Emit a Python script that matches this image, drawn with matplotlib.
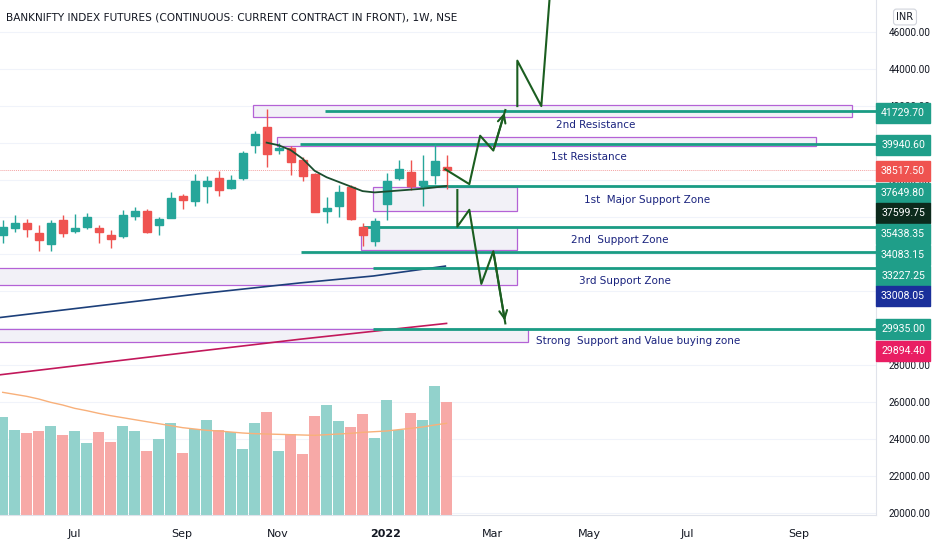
import matplotlib
matplotlib.use("Agg")
import matplotlib.pyplot as plt
from matplotlib.patches import Rectangle

# ---- data ----
opens  = [35036,35428,35695,35161,34538,35837,35232,35481,35392,35036,34983,36051,36318,35552,35944,37154,36851,37653,38098,37564,38098,39878,40892,39611,39718,39077,38311,36335,36585,37617,35481,34716,36727,38116,38418,37706,38276,38721]
closes = [35481,35659,35339,34734,35659,35125,35428,36015,35196,34805,36086,36335,35178,35873,37047,36905,37973,37973,37475,38009,39486,40465,39397,39718,38952,38204,36282,36495,37350,35873,35036,35784,37973,38596,37670,37920,39005,38517]
highs  = [35837,36104,35873,35570,35837,36104,36157,36193,35570,35303,36371,36549,36407,36015,37350,37225,38329,38240,38507,38293,39575,40643,41853,40020,39842,39219,38364,37083,37706,37706,35695,35926,38364,39077,39077,39362,39967,39362]
lows   = [34591,35214,34947,34146,34146,34947,35125,35339,34591,34324,34858,35837,35125,35036,35926,36424,36585,36763,37119,37528,38009,39486,38721,39397,38293,37973,36282,35659,36015,35837,34413,34413,35837,38009,37439,36585,37795,37528]
volumes = [293,256,245,252,266,240,252,216,250,220,266,252,193,228,276,186,258,286,256,248,198,276,308,191,242,183,298,330,283,263,303,230,345,255,306,286,388,338]
vol_ma = [368,362,356,348,338,330,320,313,305,298,292,286,280,274,268,262,258,254,252,249,246,244,243,242,241,240,239,241,243,245,248,250,252,256,260,264,270,275]
ema_idx = list(range(22, 38))
ema_val = [40020,39880,39620,39150,38500,38150,37900,37650,37400,37330,37380,37430,37480,37530,37600,37680]
blue_idx = [-0.2, 8.1, 16.4, 24.8, 30.9, 36.9]
blue_val = [30570,31211,31852,32439,32813,33347]
red_idx = [-0.2, 8.1, 16.4, 24.8, 37.0]
red_val = [27474,28115,28755,29396,30250]

levels = [41729.70, 39940.60, 37649.80, 35438.35, 34083.15, 33227.25, 29935.00]
level_start = [26.9, 24.8, 34.8, 30.0, 24.9, 30.9, 30.9]
zones = [(20.9, 70.8, 41400, 42050), (22.9, 67.8, 39840, 40330), (30.9, 42.9, 36325, 37622),
         (29.9, 42.9, 34217, 35460), (-0.5, 42.9, 32325, 33244), (-0.5, 43.8, 29245, 29947)]
zone_text = ["2nd Resistance", "1st Resistance", "1st  Major Support Zone", "2nd  Support Zone",
             "3rd Support Zone", "Strong  Support and Value buying zone"]
zone_text_x = [49.4, 48.9, 53.7, 51.4, 51.9, 53.0]
zone_text_y = [40973, 39244, 36920, 34758, 32542, 29298]

up_x = [36.9, 38.9, 39.8, 40.9, 41.9]; up_y = [38579, 37778, 40394, 39593, 41782]
up2_x = [42.9, 42.9, 44.9, 45.6]; up2_y = [41996, 44452, 41996, 47900]
dn_x = [37.9, 37.9, 38.9, 39.9, 40.9, 41.9]; dn_y = [37457, 35482, 36390, 32386, 34148, 30250]

month_pos = [5.94, 14.9, 22.9, 31.9, 40.8, 48.9, 57.1, 66.4]
month_lab = ["Jul", "Sep", "Nov", "2022", "Mar", "May", "Jul", "Sep"]

price_labels = ["41729.70", "39940.60", "38517.50", "37649.80", "37599.75", "35438.35", "34083.15",
                "33227.25", "33008.05", "29935.00", "29894.40"]
price_label_y = [113, 145, 171, 193, 213, 234, 255, 276, 296, 329, 351]
price_label_col = ["#1f9e89", "#1f9e89", "#ef5350", "#1f9e89", "#0c2a1c", "#1f9e89", "#1f9e89",
                   "#1f9e89", "#1a2f9a", "#1f9e89", "#e91e63"]

GREEN = "#26a69a"; RED = "#ef5350"; TEAL = "#1a9c84"; ARROW = "#1b5e20"

W, H = 932, 550
fig = plt.figure(figsize=(W/100, H/100), dpi=100)
ax = fig.add_axes([0, 35/H, 876/W, 515/H])

vax = ax.twinx()
vax.set_ylim(0, 1545)
vax.set_axis_off()
ax.set_zorder(vax.get_zorder() + 1)
ax.patch.set_visible(False)

ax.set_xlim(-0.225, 72.8)
ax.set_ylim(19894, 47730)
ticks = list(range(20000, 47000, 2000))
ax.yaxis.tick_right()
ax.set_yticks(ticks)
ax.set_yticklabels([f"{t:.2f}" for t in ticks], fontsize=7.2, color="#131722", fontfamily="Roboto")
ax.tick_params(axis="y", length=0, pad=9, right=True, left=False, labelright=True, labelleft=False)
ax.set_xticks(month_pos)
ax.set_xticklabels(month_lab, fontsize=8, color="#131722")
ax.get_xticklabels()[3].set_fontweight("bold")
ax.tick_params(axis="x", length=0, pad=10)
for s in ["top", "left"]:
    ax.spines[s].set_visible(False)
ax.spines["right"].set_color("#e0e3eb")
ax.spines["bottom"].set_color("#e0e3eb")
for t in ticks:
    vax.axhline((t - 19894) / (47730 - 19894) * 1545, color="#f0f3fa", lw=0.8, zorder=0)

n = len(opens)
xs = list(range(n))
vcols = ["#92d2cc" if c >= o else "#f7a9a7" for o, c in zip(opens, closes)]
vax.bar(xs, volumes, width=0.9, color=vcols, zorder=1)
vax.plot(xs, vol_ma, color="#f8b07a", lw=1, zorder=2)
vax.set_xlim(-0.225, 72.8)

for (x0, x1, y0, y1) in zones:
    ax.add_patch(Rectangle((x0, y0), x1 - x0, y1 - y0, facecolor="#f2f1f7", edgecolor="#b462d6",
                           lw=0.9, zorder=2))
for x, y, t in zip(zone_text_x, zone_text_y, zone_text):
    ax.text(x, y, t, color="#1a237e", fontsize=7.5, ha="center", va="center", zorder=6)

ax.plot(blue_idx, blue_val, color="#1c3f7a", lw=1.2, zorder=3)
ax.plot(red_idx, red_val, color="#c2185b", lw=1.2, zorder=3)
ax.plot(ema_idx, ema_val, color="#1b4d2e", lw=1.3, zorder=5)
ax.axhline(closes[-1], color="#f4a3a3", lw=0.7, ls=(0, (1, 1)), zorder=1)

for i in range(n):
    c = GREEN if closes[i] >= opens[i] else RED
    ax.vlines(i, lows[i], highs[i], color=c, lw=1, zorder=4)
    b0 = min(opens[i], closes[i]); h = max(abs(closes[i] - opens[i]), 60)
    ax.add_patch(Rectangle((i - 0.33, b0), 0.66, h, color=c, zorder=4))

for lv, xs0 in zip(levels, level_start):
    ax.plot([xs0, 72.8], [lv, lv], color=TEAL, lw=2, zorder=3, solid_capstyle="butt")

ax.plot(up_x, up_y, color=ARROW, lw=1.5, zorder=6)
ax.annotate("", xy=(up_x[-1], up_y[-1]), xytext=(up_x[-2], up_y[-2]),
            arrowprops=dict(arrowstyle="->", color=ARROW, lw=1.5, mutation_scale=14), zorder=6)
ax.plot(up2_x, up2_y, color=ARROW, lw=1.5, zorder=6, clip_on=True)
ax.plot(dn_x, dn_y, color=ARROW, lw=1.5, zorder=6)
ax.annotate("", xy=(dn_x[-1], dn_y[-1]), xytext=(dn_x[-2], dn_y[-2]),
            arrowprops=dict(arrowstyle="->", color=ARROW, lw=1.5, mutation_scale=14), zorder=6)

fig.text(6/W, 1 - 17/H, "BANKNIFTY INDEX FUTURES (CONTINUOUS: CURRENT CONTRACT IN FRONT), 1W, NSE",
         fontsize=7.6, color="#131722", va="center", ha="left")
fig.text(905/W, 1 - 17/H, "INR", fontsize=7, color="#131722", va="center", ha="center",
         bbox=dict(boxstyle="round,pad=0.3", fc="white", ec="#d1d4dc", lw=0.8))

for t, y, c in zip(price_labels, price_label_y, price_label_col):
    fig.text(903/W, 1 - y/H, t, fontsize=7.6, color="white", va="center", ha="center",
             fontfamily="Roboto",
             bbox=dict(boxstyle="square,pad=0.45", fc=c, ec=c), zorder=10)

fig.savefig("out.png", dpi=100)
